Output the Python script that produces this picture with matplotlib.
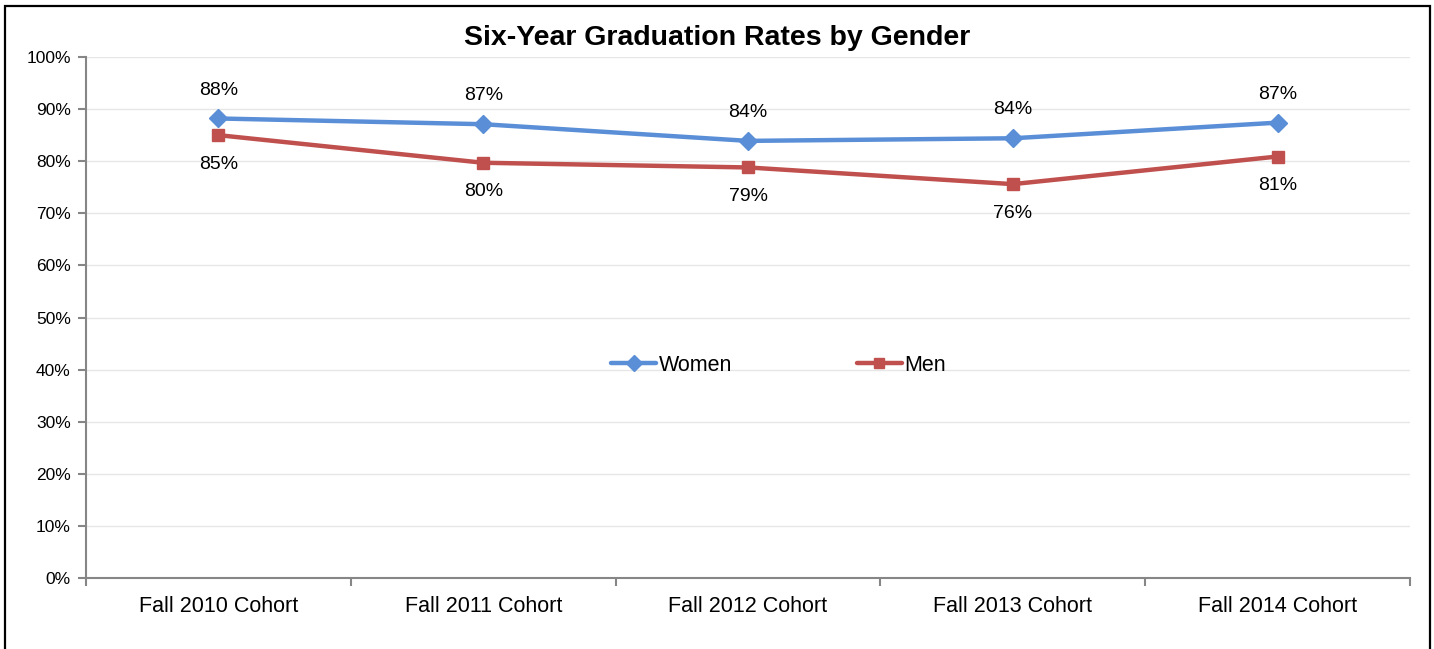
import matplotlib
matplotlib.use("Agg")
import matplotlib.pyplot as plt
from matplotlib.patches import Rectangle
from matplotlib.ticker import FixedLocator, PercentFormatter

plt.rcParams["font.family"] = ["Liberation Sans", "DejaVu Sans"]

cohorts = ["Fall 2010 Cohort", "Fall 2011 Cohort", "Fall 2012 Cohort",
           "Fall 2013 Cohort", "Fall 2014 Cohort"]
women = [88.2, 87.1, 83.9, 84.4, 87.4]
men = [85.0, 79.7, 78.8, 75.6, 80.9]

women_color = "#5A8FD8"
men_color = "#C0504D"
axis_color = "#868686"

fig = plt.figure(figsize=(14.34, 6.49), dpi=100)
ax = fig.add_axes([86 / 1434, 1 - 578 / 649, (1410 - 86) / 1434, (578 - 57) / 649])

x = list(range(len(cohorts)))
ax.plot(x, women, color=women_color, lw=3.2, marker="D", ms=9, label="Women",
        solid_capstyle="round", zorder=3)
ax.plot(x, men, color=men_color, lw=3.2, marker="s", ms=8.5, label="Men",
        solid_capstyle="round", zorder=3)

for xi, v in zip(x, women):
    ax.annotate(f"{v:.0f}%", (xi, v), xytext=(0, 20.5), textcoords="offset points",
                ha="center", va="center", fontsize=14)
for xi, v in zip(x, men):
    ax.annotate(f"{v:.0f}%", (xi, v), xytext=(0, -21), textcoords="offset points",
                ha="center", va="center", fontsize=14)

ax.set_xlim(-0.5, len(cohorts) - 0.5)
ax.set_ylim(0, 100)
ax.set_yticks(range(0, 101, 10))
ax.yaxis.set_major_formatter(PercentFormatter(decimals=0))
ax.grid(axis="y", color="#E6E6E6", lw=1)
ax.set_axisbelow(True)

ax.set_xticks(x)
ax.set_xticklabels(cohorts, fontsize=15.5)
ax.tick_params(axis="x", which="major", length=0, pad=13)
ax.xaxis.set_minor_locator(FixedLocator([i - 0.5 for i in range(len(cohorts) + 1)]))
ax.tick_params(axis="x", which="minor", length=6, color=axis_color, width=1.5,
               direction="out")
ax.tick_params(axis="y", length=6, color=axis_color, width=1.5, labelsize=12.5,
               direction="out", pad=5)

for side in ["top", "right"]:
    ax.spines[side].set_visible(False)
for side in ["left", "bottom"]:
    ax.spines[side].set_color(axis_color)
    ax.spines[side].set_linewidth(1.5)

ax.legend(loc="center", bbox_to_anchor=(0.523, 0.408), ncol=2, frameon=False,
          fontsize=15.5, handlelength=2.1, handletextpad=0.1, columnspacing=5.8,
          markerscale=0.9)

fig.text(0.5, 1 - 38 / 649, "Six-Year Graduation Rates by Gender", ha="center",
         va="center", fontsize=20.5, fontweight="bold")

fig.patches.append(Rectangle((5 / 1434, -0.02), (1430 - 5) / 1434, 1.02 - 6 / 649,
                             transform=fig.transFigure, fill=False, ec="black",
                             lw=1.6))

fig.savefig("out.png", dpi=100)
